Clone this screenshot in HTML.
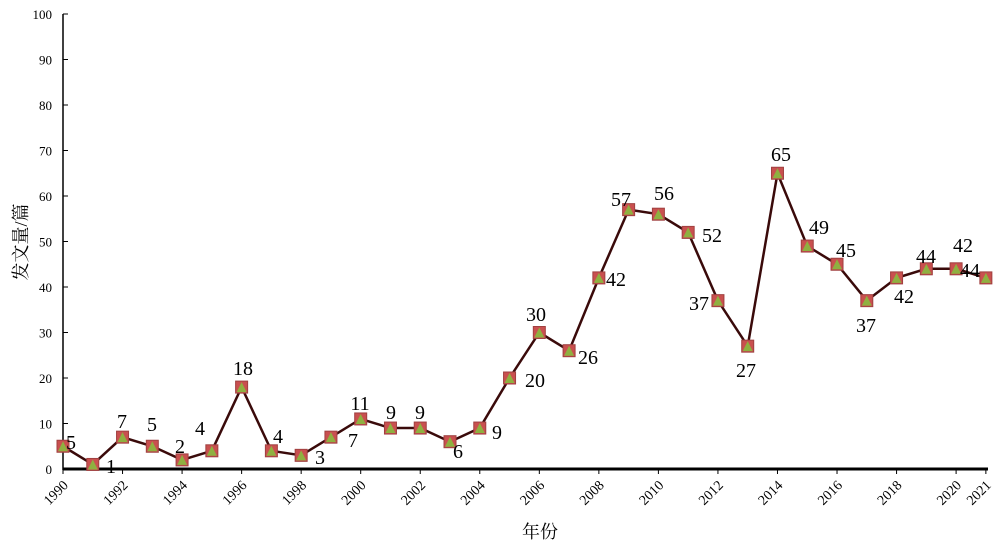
<!DOCTYPE html>
<html><head><meta charset="utf-8"><style>body{margin:0;background:#fff}svg{display:block}</style></head><body>
<svg width="1000" height="545" xmlns="http://www.w3.org/2000/svg" font-family="Liberation Serif, Noto Serif CJK SC, serif">
<rect width="1000" height="545" fill="#fff"/>
<g stroke="#000" stroke-width="1.5">
<line x1="63" y1="14" x2="63" y2="470"/>
<line x1="63" y1="469" x2="988" y2="469" stroke-width="3"/>
</g>
<g id="yt" font-size="13" text-anchor="end" fill="#000"></g>
<g id="xt" font-size="14" fill="#000"></g>
<polyline id="ln" fill="none" stroke="#3a0a0a" stroke-width="2.5"/>
<g id="mk"></g>
<g font-size="20" text-anchor="middle" fill="#000">
<text x="71" y="449">5</text><text x="111" y="473">1</text><text x="122" y="428">7</text><text x="152" y="431">5</text><text x="180" y="453">2</text><text x="200" y="435">4</text><text x="243" y="375">18</text><text x="278" y="443">4</text><text x="320" y="464">3</text><text x="353" y="447">7</text><text x="360" y="410">11</text><text x="391" y="419">9</text><text x="420" y="419">9</text><text x="458" y="458">6</text><text x="497" y="439">9</text><text x="535" y="387">20</text><text x="536" y="321">30</text><text x="588" y="364">26</text><text x="616" y="286">42</text><text x="621" y="206">57</text><text x="664" y="200">56</text><text x="712" y="242">52</text><text x="699" y="310">37</text><text x="746" y="377">27</text><text x="781" y="161">65</text><text x="819" y="234">49</text><text x="846" y="257">45</text><text x="866" y="332">37</text><text x="904" y="303">42</text><text x="926" y="263">44</text><text x="963" y="252">42</text><text x="970" y="277">44</text>
</g>
<text x="540" y="538" font-size="18" text-anchor="middle">年份</text>
<text transform="translate(27,242) rotate(-90)" font-size="18" text-anchor="middle">发文量/篇</text>
<script>
var d=[5,1,7,5,2,4,18,4,3,7,11,9,9,6,9,20,30,26,42,57,56,52,37,27,65,49,45,37,42,44,44,42];
var X=i=>63+i*29.77,Y=v=>469-v*4.55,ns="http://www.w3.org/2000/svg";
function el(t,a,p,txt){var e=document.createElementNS(ns,t);for(var k in a)e.setAttribute(k,a[k]);if(txt!=null)e.textContent=txt;document.getElementById(p).appendChild(e);}
var pts=d.map((v,i)=>X(i)+","+Y(v)).join(" ");document.getElementById("ln").setAttribute("points",pts);
d.forEach((v,i)=>{var x=X(i),y=Y(v);el("rect",{x:x-6,y:y-6,width:12,height:12,fill:"#c9504f",stroke:"#a04040","stroke-width":1},"mk");el("polygon",{points:(x)+","+(y-5)+" "+(x-5)+","+(y+5)+" "+(x+5)+","+(y+5),fill:"#8fb040"},"mk");});
for(var v=0;v<=100;v+=10){el("text",{x:52,y:Y(v)+5},"yt",v);el("line",{x1:63,y1:Y(v),x2:68,y2:Y(v),stroke:"#000"},"yt");}
for(var i=0;i<32;i++){if(i%2==0||i==31){var x=X(i);el("line",{x1:x,y1:469,x2:x,y2:474,stroke:"#000"},"xt");el("text",{transform:"translate("+(x+6)+",486) rotate(-45)","text-anchor":"end"},"xt",1990+i);}}
</script>
</svg>
</body></html>
